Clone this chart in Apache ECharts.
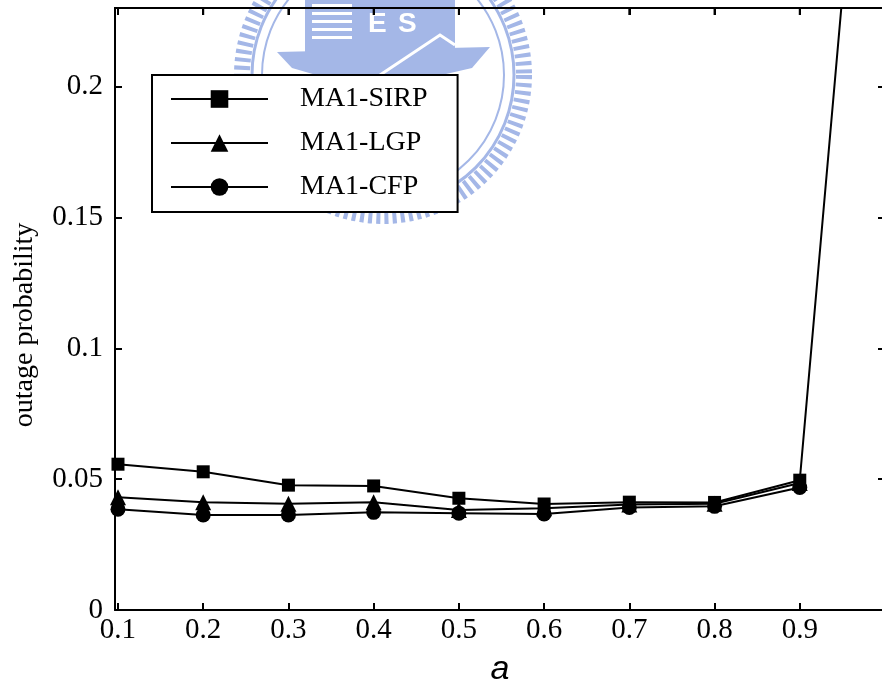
<!DOCTYPE html>
<html>
<head>
<meta charset="utf-8">
<script src="https://cdn.jsdelivr.net/npm/echarts@6/dist/echarts.min.js"></script>
<style>
  html, body { margin: 0; padding: 0; background: #fff; }
  #chart { width: 882px; height: 685px; }
</style>
</head>
<body>
<div id="chart"></div>
<script>
// Parameter a on the horizontal axis
const aValues = [0.1, 0.2, 0.3, 0.4, 0.5, 0.6, 0.7, 0.8, 0.9, 1.0];
const xTicks = [0.1, 0.2, 0.3, 0.4, 0.5, 0.6, 0.7, 0.8, 0.9];

// Outage probability for each scheme
const sirp = [0.0557, 0.0528, 0.0477, 0.0474, 0.0427, 0.0405, 0.0412, 0.0411, 0.0496, 0.42];
const lgp  = [0.0431, 0.0412, 0.0406, 0.0412, 0.0382, 0.0389, 0.0403, 0.0406, 0.0485];
const cfp  = [0.0385, 0.0363, 0.0363, 0.0373, 0.0370, 0.0367, 0.0392, 0.0396, 0.0468];

const seriesNames = ['MA1-SIRP', 'MA1-LGP', 'MA1-CFP'];

const X_MIN = 0.0965, X_MAX = 1.0, Y_MIN = 0, Y_MAX = 0.23;

const pairs = vals => vals.map((v, i) => [aValues[i], v]);

const serif = '"Liberation Serif", "Times New Roman", serif';
const wm = '#a4b7e7';

const chart = echarts.init(document.getElementById('chart'));

function lineSeries(name, vals, symbol, size) {
  return {
    name: name,
    type: 'line',
    data: pairs(vals),
    symbol: symbol,
    symbolSize: size,
    lineStyle: { color: '#000', width: 2 },
    itemStyle: { color: '#000', borderWidth: 0 },
    emphasis: { disabled: true },
    animation: false,
    z: 3
  };
}

const tickStyle = () => ({ show: true, inside: true, length: 7, lineStyle: { color: '#000', width: 2 } });
const axisLineStyle = () => ({ show: true, onZero: false, lineStyle: { color: '#000', width: 2 } });

chart.setOption({
  animation: false,
  backgroundColor: '#fff',
  grid: { left: 115, right: -3, top: 8, bottom: 75, outerBoundsMode: 'none' },
  xAxis: [{
    type: 'value', min: X_MIN, max: X_MAX, z: 10,
    name: 'a', nameLocation: 'middle', nameGap: 43,
    nameTextStyle: { fontFamily: '"Liberation Sans", Arial, sans-serif', fontStyle: 'italic', fontSize: 34, color: '#000' },
    axisLine: axisLineStyle(),
    axisTick: Object.assign(tickStyle(), { customValues: xTicks }),
    axisLabel: { customValues: xTicks, fontFamily: serif, fontSize: 29, color: '#000', margin: 6,
                 formatter: v => String(+v.toFixed(1)) },
    splitLine: { show: false }
  }, {
    type: 'value', min: X_MIN, max: X_MAX, position: 'top', z: 10,
    axisLine: axisLineStyle(),
    axisTick: Object.assign(tickStyle(), { customValues: xTicks }),
    axisLabel: { show: false },
    splitLine: { show: false }
  }],
  yAxis: [{
    type: 'value', min: Y_MIN, max: Y_MAX, interval: 0.05, z: 10,
    name: 'outage probability', nameLocation: 'middle', nameGap: 76, nameRotate: 90,
    nameTextStyle: { fontFamily: serif, fontSize: 28, color: '#000', padding: [0, 32, 0, 0] },
    axisLine: axisLineStyle(),
    axisTick: tickStyle(),
    axisLabel: { fontFamily: serif, fontSize: 29, color: '#000', margin: 12, showMaxLabel: false,
                 formatter: v => String(+v.toFixed(2)) },
    splitLine: { show: false }
  }, {
    type: 'value', min: Y_MIN, max: Y_MAX, interval: 0.05, position: 'right', z: 10,
    axisLine: axisLineStyle(),
    axisTick: tickStyle(),
    axisLabel: { show: false },
    splitLine: { show: false }
  }],
  legend: {
    orient: 'vertical', left: 152, top: 75,
    data: seriesNames,
    itemWidth: 97, itemHeight: 22, itemGap: 16,
    padding: [10, 30, 11, 18],
    backgroundColor: '#fff', borderColor: '#000', borderWidth: 2, borderRadius: 0,
    textStyle: { fontFamily: serif, fontSize: 28, color: '#000', padding: [0, 0, 0, 27] },
    selectedMode: false,
    z: 20
  },
  series: [
    lineSeries(seriesNames[0], sirp, 'rect', 13),
    lineSeries(seriesNames[1], lgp, 'triangle', 16),
    lineSeries(seriesNames[2], cfp, 'circle', 15)
  ]
});

// faint emblem printed behind the plot
const emblem = {
  id: 'emblem', type: 'group', z: 1, silent: true,
  children: [
    { type: 'circle', shape: { cx: 383, cy: 75, r: 141 },
      style: { fill: 'none', stroke: wm, lineWidth: 16, lineDash: [4, 4] } },
    { type: 'circle', shape: { cx: 383, cy: 75, r: 131 },
      style: { fill: 'none', stroke: wm, lineWidth: 3 } },
    { type: 'circle', shape: { cx: 383, cy: 75, r: 121 },
      style: { fill: 'none', stroke: wm, lineWidth: 2 } },
    { type: 'polygon', shape: { points: [[277, 52], [490, 47], [472, 68], [420, 80], [330, 79], [292, 68]] },
      style: { fill: wm } },
    { type: 'rect', shape: { x: 305, y: 0, width: 150, height: 52 }, style: { fill: wm } },
    { type: 'rect', shape: { x: 312, y: 4, width: 40, height: 3 }, style: { fill: '#fff' } },
    { type: 'rect', shape: { x: 312, y: 12, width: 40, height: 3 }, style: { fill: '#fff' } },
    { type: 'rect', shape: { x: 312, y: 20, width: 40, height: 3 }, style: { fill: '#fff' } },
    { type: 'rect', shape: { x: 312, y: 28, width: 40, height: 3 }, style: { fill: '#fff' } },
    { type: 'rect', shape: { x: 312, y: 36, width: 40, height: 3 }, style: { fill: '#fff' } },
    { type: 'text', style: { x: 368, y: 10, text: 'E', font: 'bold 28px "Liberation Sans"', fill: '#fff' } },
    { type: 'text', style: { x: 398, y: 10, text: 'S', font: 'bold 28px "Liberation Sans"', fill: '#fff' } },
    { type: 'polyline', shape: { points: [[380, 75], [440, 35], [455, 45]] },
      style: { stroke: '#fff', lineWidth: 3, fill: 'none' } }
  ]
};

// Top edge of the plot frame with its inward ticks, placed through the axis scales
const topY = chart.convertToPixel({ yAxisIndex: 0 }, Y_MAX);
const leftX = chart.convertToPixel({ xAxisIndex: 0 }, X_MIN);
const rightX = chart.convertToPixel({ xAxisIndex: 0 }, X_MAX);
const frameParts = [{ type: 'line', z: 100, shape: { x1: leftX - 1, y1: topY, x2: rightX, y2: topY },
                      style: { stroke: '#000', lineWidth: 2 } }];
xTicks.forEach(v => {
  const x = chart.convertToPixel({ xAxisIndex: 0 }, v);
  frameParts.push({ type: 'line', z: 100, shape: { x1: x, y1: topY, x2: x, y2: topY + 7 },
                    style: { stroke: '#000', lineWidth: 2 } });
});

chart.setOption({
  graphic: {
    elements: [
      emblem,
      { id: 'topFrame', type: 'group', z: 100, silent: true, children: frameParts }
    ]
  }
});
</script>
</body>
</html>
